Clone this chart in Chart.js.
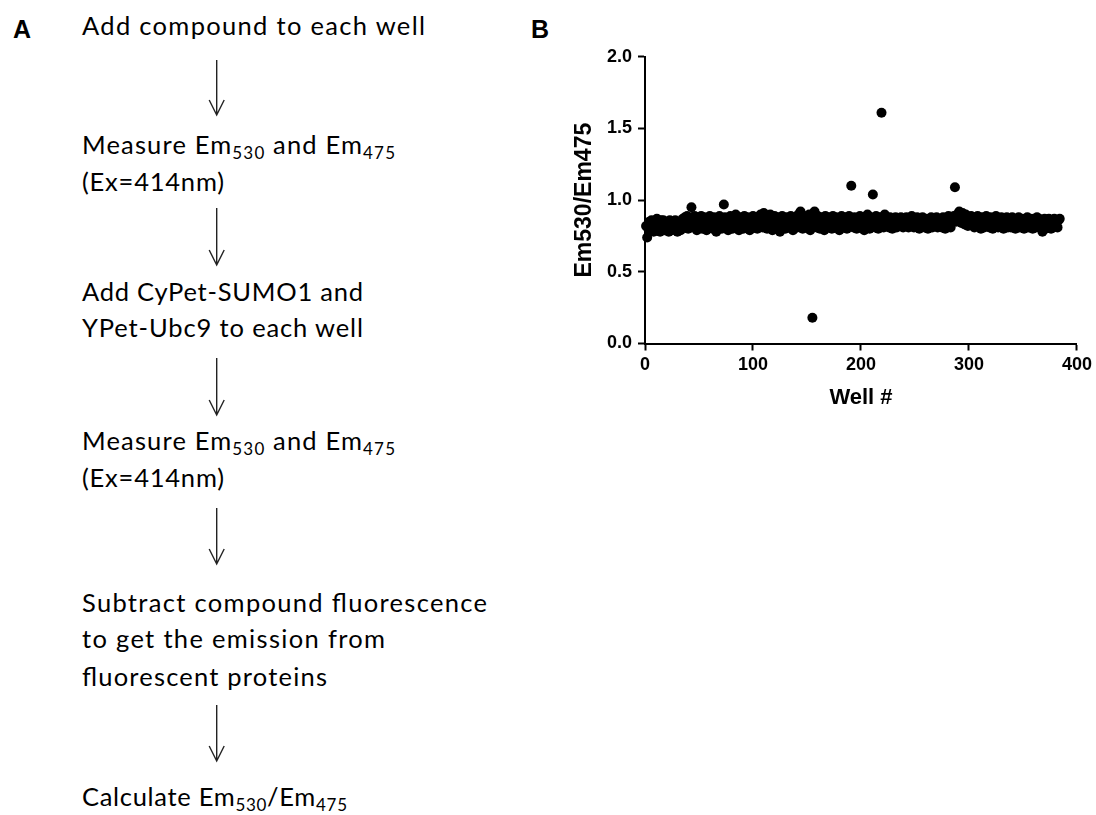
<!DOCTYPE html>
<html>
<head>
<meta charset="utf-8">
<script src="https://cdn.jsdelivr.net/npm/chart.js@4/dist/chart.umd.min.js"></script>
<style>
html,body{margin:0;padding:0;background:#fff;width:1096px;height:815px;overflow:hidden;}
#panelA{position:absolute;left:0;top:0;}
#chartB{position:absolute;left:540px;top:40px;}
.step{font-family:Lato,"Open Sans",sans-serif;font-size:25.5px;fill:#000;}
.sub{font-size:17px;}
.plabel{font-family:"Liberation Sans",Arial,sans-serif;font-weight:bold;font-size:25px;fill:#000;}
.arrow{stroke:#222;stroke-width:1.4;fill:none;}
</style>
</head>
<body>
<svg id="panelA" width="1096" height="815" xmlns="http://www.w3.org/2000/svg">
  <text class="plabel" x="13" y="38">A</text>
  <text class="plabel" x="531" y="38">B</text>

  <text class="step" x="82" y="35" textLength="343">Add compound to each well</text>
  <path class="arrow" d="M216.7 60 V115 M209.2 100 L216.7 115 L224.2 100"/>

  <text class="step" x="82" y="154" textLength="313">Measure Em<tspan class="sub" dy="5">530</tspan><tspan dy="-5"> and Em</tspan><tspan class="sub" dy="5">475</tspan></text>
  <text class="step" x="82" y="191" textLength="142">(Ex=414nm)</text>
  <path class="arrow" d="M216.7 208 V265 M209.2 250 L216.7 265 L224.2 250"/>

  <text class="step" x="82" y="301" textLength="281">Add CyPet-SUMO1 and</text>
  <text class="step" x="82" y="337" textLength="281">YPet-Ubc9 to each well</text>
  <path class="arrow" d="M216.7 358 V415 M209.2 400 L216.7 415 L224.2 400"/>

  <text class="step" x="82" y="450" textLength="313">Measure Em<tspan class="sub" dy="5">530</tspan><tspan dy="-5"> and Em</tspan><tspan class="sub" dy="5">475</tspan></text>
  <text class="step" x="82" y="487" textLength="142">(Ex=414nm)</text>
  <path class="arrow" d="M216.7 508 V564 M209.2 549 L216.7 564 L224.2 549"/>

  <text class="step" x="82" y="612" textLength="405">Subtract compound fluorescence</text>
  <text class="step" x="82" y="648" textLength="303">to get the emission from</text>
  <text class="step" x="82" y="686" textLength="245">fluorescent proteins</text>
  <path class="arrow" d="M216.7 705 V761 M209.2 746 L216.7 761 L224.2 746"/>

  <text class="step" x="82" y="806" textLength="265">Calculate Em<tspan class="sub" dy="5">530</tspan><tspan dy="-5">/Em</tspan><tspan class="sub" dy="5">475</tspan></text>
</svg>
<canvas id="chartB" width="556" height="400"></canvas>
<script>
// Em530/Em475 ratio per well (wells 1..384)
const wellValues = [
  0.82,0.74,0.80,0.85,0.79,0.86,0.82,0.78,0.85,0.81,0.87,0.80,0.84,0.78,0.86,0.81,
  0.86,0.79,0.83,0.80,0.85,0.78,0.86,0.82,0.79,0.85,0.81,0.86,0.83,0.78,0.85,0.80,
  0.79,0.84,0.87,0.81,0.88,0.83,0.89,0.80,0.86,0.81,0.95,0.88,0.82,0.89,0.84,0.79,
  0.88,0.81,0.86,0.89,0.80,0.84,0.88,0.86,0.79,0.87,0.82,0.89,0.81,0.86,0.80,0.88,
  0.83,0.78,0.87,0.81,0.89,0.85,0.80,0.84,0.97,0.88,0.81,0.87,0.79,0.86,0.89,0.82,
  0.80,0.87,0.83,0.90,0.81,0.86,0.79,0.88,0.82,0.87,0.80,0.89,0.85,0.81,0.88,0.83,
  0.79,0.87,0.82,0.89,0.81,0.86,0.88,0.80,0.87,0.83,0.90,0.85,0.81,0.91,0.82,0.87,
  0.80,0.88,0.83,0.90,0.85,0.79,0.87,0.89,0.81,0.86,0.88,0.82,0.78,0.87,0.89,0.83,
  0.86,0.80,0.88,0.82,0.87,0.81,0.89,0.85,0.79,0.87,0.83,0.88,0.81,0.90,0.84,0.92,
  0.87,0.80,0.89,0.83,0.88,0.81,0.86,0.90,0.79,0.87,0.18,0.83,0.92,0.87,0.81,0.89,
  0.85,0.80,0.88,0.82,0.87,0.79,0.89,0.85,0.81,0.88,0.83,0.87,0.80,0.89,0.85,0.81,
  0.88,0.82,0.87,0.79,0.85,0.89,0.81,0.87,0.83,0.88,0.80,0.86,0.89,0.82,1.10,0.87,
  0.81,0.88,0.85,0.80,0.87,0.83,0.89,0.81,0.86,0.88,0.79,0.87,0.83,0.90,0.85,0.80,
  0.88,0.83,1.04,0.87,0.81,0.89,0.85,0.80,0.88,0.83,1.61,0.87,0.81,0.90,0.85,0.82,
  0.87,0.81,0.88,0.85,0.80,0.87,0.83,0.88,0.81,0.86,0.87,0.82,0.88,0.85,0.81,0.87,
  0.83,0.88,0.85,0.81,0.87,0.83,0.89,0.85,0.81,0.87,0.83,0.88,0.85,0.80,0.87,0.83,
  0.88,0.85,0.81,0.87,0.83,0.80,0.87,0.85,0.88,0.81,0.85,0.87,0.83,0.88,0.81,0.87,
  0.83,0.87,0.81,0.88,0.85,0.80,0.87,0.83,0.89,0.85,0.81,0.88,0.86,0.89,1.09,0.85,
  0.90,0.86,0.92,0.89,0.84,0.91,0.88,0.83,0.90,0.86,0.82,0.88,0.85,0.89,0.83,0.87,
  0.81,0.88,0.85,0.89,0.83,0.87,0.80,0.88,0.85,0.81,0.87,0.89,0.83,0.87,0.81,0.88,
  0.85,0.80,0.87,0.83,0.89,0.85,0.81,0.87,0.83,0.88,0.85,0.80,0.87,0.83,0.88,0.81,
  0.85,0.87,0.81,0.88,0.83,0.85,0.80,0.87,0.83,0.88,0.81,0.85,0.87,0.83,0.80,0.87,
  0.83,0.88,0.81,0.85,0.87,0.83,0.80,0.87,0.85,0.81,0.88,0.83,0.87,0.81,0.85,0.78,
  0.83,0.87,0.80,0.85,0.81,0.87,0.83,0.80,0.85,0.81,0.87,0.83,0.85,0.81,0.86,0.87
];
const xTicks = [0, 100, 200, 300, 400];
const yTicks = [0.0, 0.5, 1.0, 1.5, 2.0];
const xAxisTitle = 'Well #';
const yAxisTitle = 'Em530/Em475';

const points = wellValues.map((v, i) => ({ x: i + 1, y: v }));
const axisFont = '"Liberation Sans", Arial, Helvetica, sans-serif';

new Chart(document.getElementById('chartB').getContext('2d'), {
  type: 'scatter',
  data: {
    datasets: [{
      data: points,
      backgroundColor: '#000',
      borderColor: '#000',
      borderWidth: 0,
      pointRadius: 5,
      pointHoverRadius: 5,
      clip: false
    }]
  },
  options: {
    responsive: false,
    animation: false,
    devicePixelRatio: 1,
    layout: { padding: { top: 16, right: 19, bottom: 26.5, left: 0 } },
    plugins: { legend: { display: false }, tooltip: { enabled: false } },
    scales: {
      x: {
        type: 'linear', min: 0, max: 400,
        afterBuildTicks: s => { s.ticks = xTicks.map(v => ({ value: v })); },
        afterFit: s => { s.height = 70; },
        grid: { display: true, drawOnChartArea: false, drawTicks: true, tickLength: 7, tickWidth: 2, tickColor: '#000' },
        border: { display: true, color: '#000', width: 2 },
        ticks: { color: '#000', font: { family: axisFont, size: 18, weight: 'bold' }, padding: 4, maxRotation: 0, autoSkip: false, callback: v => String(v) },
        title: { display: true, text: xAxisTitle, color: '#000', font: { family: axisFont, size: 22, weight: 'bold' }, padding: { top: 0, bottom: 2 } }
      },
      y: {
        type: 'linear', min: 0, max: 2,
        afterBuildTicks: s => { s.ticks = yTicks.map(v => ({ value: v })); },
        afterFit: s => { s.width = 105; },
        grid: { display: true, drawOnChartArea: false, drawTicks: true, tickLength: 7, tickWidth: 2, tickColor: '#000' },
        border: { display: true, color: '#000', width: 2 },
        ticks: { color: '#000', font: { family: axisFont, size: 18, weight: 'bold' }, padding: 6, autoSkip: false, callback: v => Number(v).toFixed(1) },
        title: { display: true, text: yAxisTitle, color: '#000', font: { family: axisFont, size: 23, weight: 'bold' }, padding: { top: 30.8, bottom: 0 } }
      }
    }
  }
});
</script>
</body>
</html>
